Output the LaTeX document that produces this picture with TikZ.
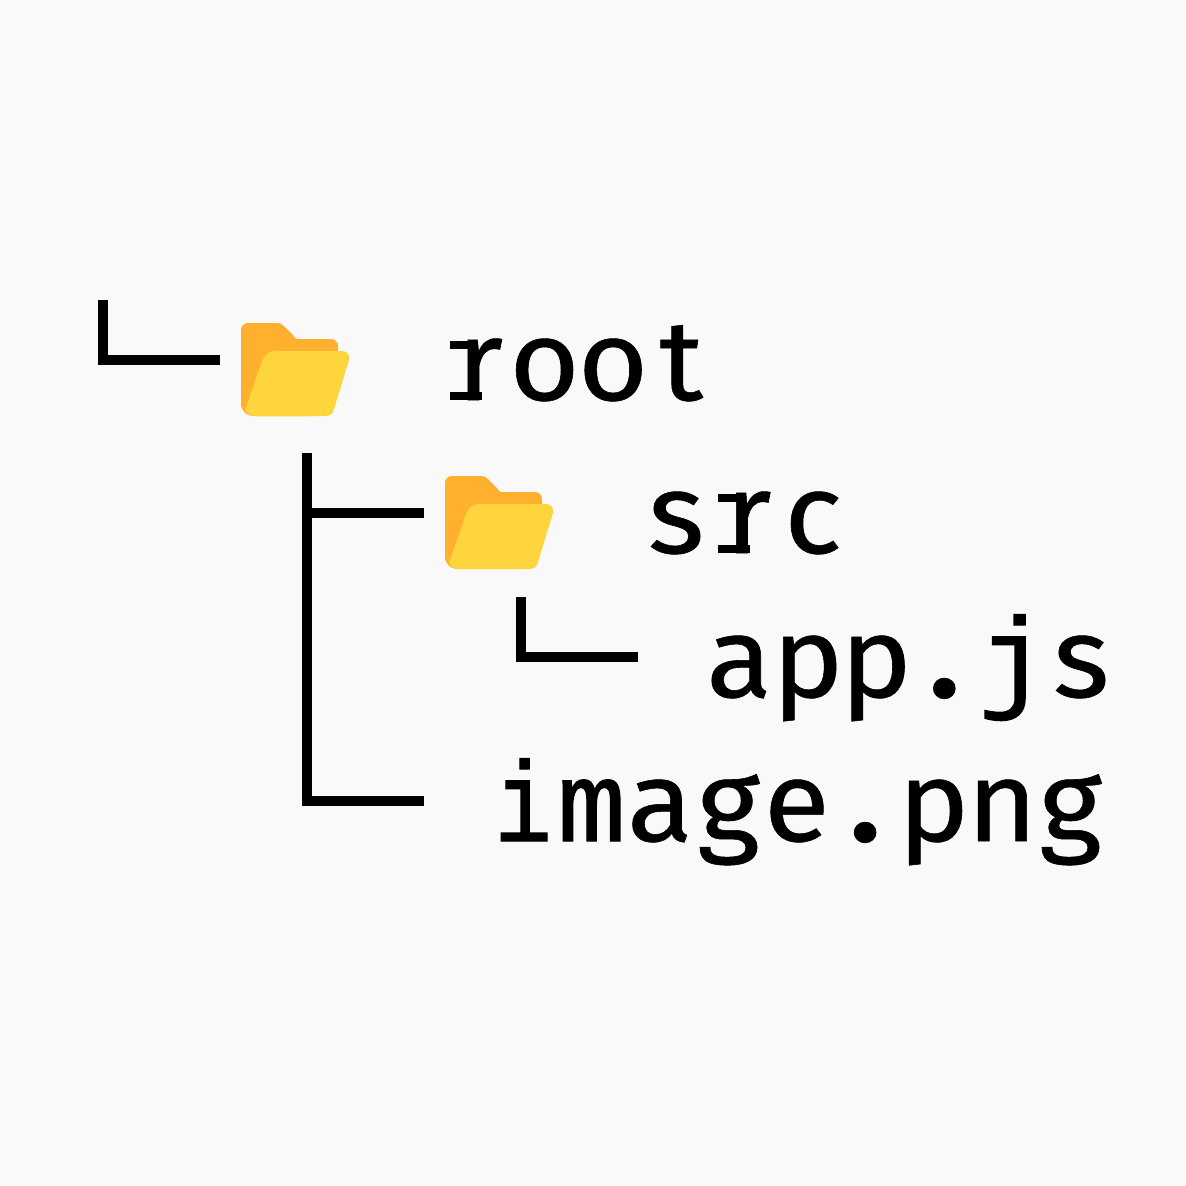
\documentclass[tikz,border=0pt]{standalone}
\usepackage{fontspec}
\setmainfont{Fira Sans}[FakeBold=0.5,FakeStretch=1.06]
\newfontfamily\slabfont{Liberation Mono}[FakeBold=1.1]
\newcommand\cell[1]{\makebox[68.4pt][c]{#1}}
\newcommand\slabcell[1]{\cell{\slabfont #1}}
\newcommand\rcell{\makebox[68.4pt][l]{\rlap{\hspace{8pt}\rule{32pt}{8.5pt}}\rlap{\hspace{8pt}\rule[51pt]{20pt}{8.5pt}}\hspace{14.5pt}r}}
\newcommand\dotcell{\cell{\scalebox{1.3}{.}}}
\newcommand\icell{\cell{\scalebox{0.84}[1]{\slabfont i}}}
\definecolor{pagebg}{HTML}{F9F9F9}
\definecolor{foldback}{HTML}{FFB02E}
\definecolor{foldfront}{HTML}{FFD53D}
\tikzset{
  treeline/.style={draw=black,line width=10pt,line cap=butt,line join=miter},
  label/.style={anchor=base west,inner sep=0pt,outer sep=0pt,text=black,font=\fontsize{114pt}{114pt}\selectfont},
  folder/.pic={
    \fill[foldback] (0,7) .. controls (0,3) and (3,0) .. (7,0) -- (36,0)
      .. controls (39,0) and (41,1) .. (43,3) -- (52,12)
      .. controls (53,14) and (54,16) .. (58,16) -- (90,16)
      .. controls (94,16) and (97,19) .. (97,23) -- (97,45) -- (70,93) -- (14,93)
      .. controls (5,93) and (0,88) .. (0,80) -- cycle;
    \fill[foldfront] (34,28) -- (101,28)
      .. controls (106,28) and (109,32) .. (108,37)
      -- (93,86) .. controls (92,91) and (89,93) .. (84,93)
      -- (15,93) .. controls (10,93) and (6,91) .. (4,87)
      -- (21,38) .. controls (24,31) and (28,28) .. (34,28) -- cycle;
  }
}
\begin{document}
\begin{tikzpicture}[x=1pt,y=-1pt]
\useasboundingbox[fill=pagebg] (0,0) rectangle (1186,1186);
\coordinate (a0) at (103,300);
\coordinate (a1) at (103,359.5);
\coordinate (a2) at (220,359.5);
\coordinate (b0) at (307,453);
\coordinate (b1) at (307,800.5);
\coordinate (b2) at (424,800.5);
\coordinate (c1) at (307,513);
\coordinate (c2) at (424,513);
\coordinate (d0) at (521,597);
\coordinate (d1) at (521,657);
\coordinate (d2) at (638,657);
\draw[treeline] (a0) -- (a1) -- (a2);
\draw[treeline] (b0) -- (b1) -- (b2);
\draw[treeline] (c1) -- (c2);
\draw[treeline] (d0) -- (d1) -- (d2);
\pic at (241,323) {folder};
\pic at (445,476) {folder};
\node[label] (root) at (442,400) {\rcell\cell{o}\cell{o}\cell{t}};
\node[label] (src) at (642,553) {\cell{s}\rcell\cell{c}};
\node[label] (app) at (705,697) {\cell{a}\cell{p}\cell{p}\dotcell\slabcell{j}\cell{s}};
\node[label] (img) at (489,841) {\icell\slabcell{m}\cell{a}\cell{g}\cell{e}\dotcell\cell{p}\cell{n}\cell{g}};
\end{tikzpicture}
\end{document}
